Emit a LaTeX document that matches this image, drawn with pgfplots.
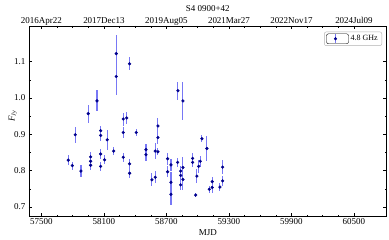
\documentclass[border=0pt]{standalone}
\usepackage{fontspec}
\setmainfont{Liberation Serif}
\usepackage{pgfplots}
\usepackage{pgfplotstable}
\pgfplotsset{compat=1.18}
\definecolor{navy}{RGB}{0,0,140}
\definecolor{errc}{RGB}{120,120,245}
\pgfplotstableread{
x y e
57757 0.829 0.014
57796 0.814 0.011
57824 0.899 0.022
57879 0.799 0.016
57949 0.957 0.025
57972 0.838 0.014
57972 0.826 0.012
57972 0.815 0.012
58033 0.992 0.029
58068 0.910 0.012
58068 0.897 0.014
58068 0.846 0.015
58068 0.812 0.012
58106 0.830 0.012
58131 0.885 0.028
58193 0.854 0.010
58218 1.122 0.052
58218 1.059 0.050
58285 0.942 0.018
58285 0.905 0.014
58285 0.837 0.013
58318 0.945 0.016
58346 1.094 0.018
58346 0.819 0.013
58346 0.793 0.013
58410 0.905 0.010
58503 0.858 0.016
58503 0.844 0.016
58560 0.775 0.018
58592 0.854 0.022
58592 0.782 0.016
58618 0.923 0.022
58618 0.891 0.018
58618 0.852 0.010
58711 0.833 0.016
58711 0.797 0.015
58743 0.816 0.016
58743 0.768 0.028
58743 0.735 0.030
58807 0.823 0.012
58810 1.020 0.025
58836 0.799 0.013
58836 0.787 0.012
58836 0.761 0.014
58858 0.809 0.030
58858 0.776 0.030
58858 0.992 0.052
58951 0.834 0.016
58951 0.823 0.012
58980 0.733 0.006
58992 0.785 0.020
59009 0.812 0.018
59024 0.826 0.015
59040 0.888 0.010
59088 0.861 0.035
59110 0.749 0.010
59139 0.770 0.012
59139 0.754 0.014
59213 0.755 0.010
59239 0.810 0.020
59239 0.772 0.014
}\data
\begin{document}
\begin{tikzpicture}[font=\fontsize{9}{10}\selectfont]
\useasboundingbox (-29pt,-23.3pt) rectangle (360.3pt,216.7pt);
\begin{axis}[
  scale only axis, width=358pt, height=190.7pt,
  xmin=57380, xmax=60814, ymin=0.674, ymax=1.198,
  xtick={57500,58100,58700,59300,59900,60500},
  ytick={0.7,0.8,0.9,1.0,1.1},
  scaled x ticks=false, scaled y ticks=false,
  minor x tick num=3, minor y tick num=1,
  xtick pos=both, ytick pos=both, xticklabel pos=bottom, yticklabel pos=left,
  tick align=inside,
  major tick length=3.5pt, minor tick length=2pt,
  tick style={black, line width=0.5pt},
  axis line style={line width=0.6pt},
  /pgf/number format/assume math mode=true,
  xticklabel style={/pgf/number format/set thousands separator={}, anchor=base, yshift=-8.3pt},
  yticklabel style={/pgf/number format/.cd, fixed, fixed zerofill, precision=1},
  xlabel={MJD},
  xlabel style={at={(axis description cs:0.5,0)}, anchor=base, yshift=-18.5pt},
  ylabel={\textit{F}\textsubscript{\textit{Jy}}},
  ylabel style={at={(axis description cs:-0.045,0.526)}, anchor=center},
  legend style={at={(rel axis cs:1,1)}, anchor=north east, xshift=-4.7pt, yshift=-5.7pt,
    draw=gray!60, rounded corners=2pt, font=\fontsize{8}{9}\selectfont,
    inner xsep=2pt, inner ysep=1.5pt},
  legend cell align=left,
  legend image code/.code={
    \path (0pt,-5pt) rectangle (22pt,5pt);
    \draw[errc, line width=1.1pt] (9pt,-4.5pt) -- (9pt,4.5pt);
    \fill[navy] (9pt,0pt) circle (1.4pt);
  },
]
\addplot[only marks, mark=*, mark size=1.4pt, mark options={draw=navy, fill=navy},
  error bars/.cd, y dir=both, y explicit,
  error bar style={errc, line width=1.1pt}, error mark=none]
  table[x=x, y=y, y error=e] {\data};
\addlegendentry{4.8 GHz}
\end{axis}
\begin{axis}[
  scale only axis, width=358pt, height=190.7pt,
  xmin=57380, xmax=60814, ymin=0, ymax=1,
  scaled x ticks=false,
  axis x line*=top, hide y axis,
  x axis line style={draw=none},
  xtick={57500,58100,58700,59300,59900,60500},
  xticklabels={2016Apr22,2017Dec13,2019Aug05,2021Mar27,2022Nov17,2024Jul09},
  xtick style={draw=none}, minor x tick num=0,
  xticklabel style={anchor=base, yshift=2pt},
  title={S4 0900+42},
  title style={at={(axis description cs:0.5,1)}, anchor=base, yshift=8.5pt},
]
\end{axis}
\end{tikzpicture}
\end{document}
